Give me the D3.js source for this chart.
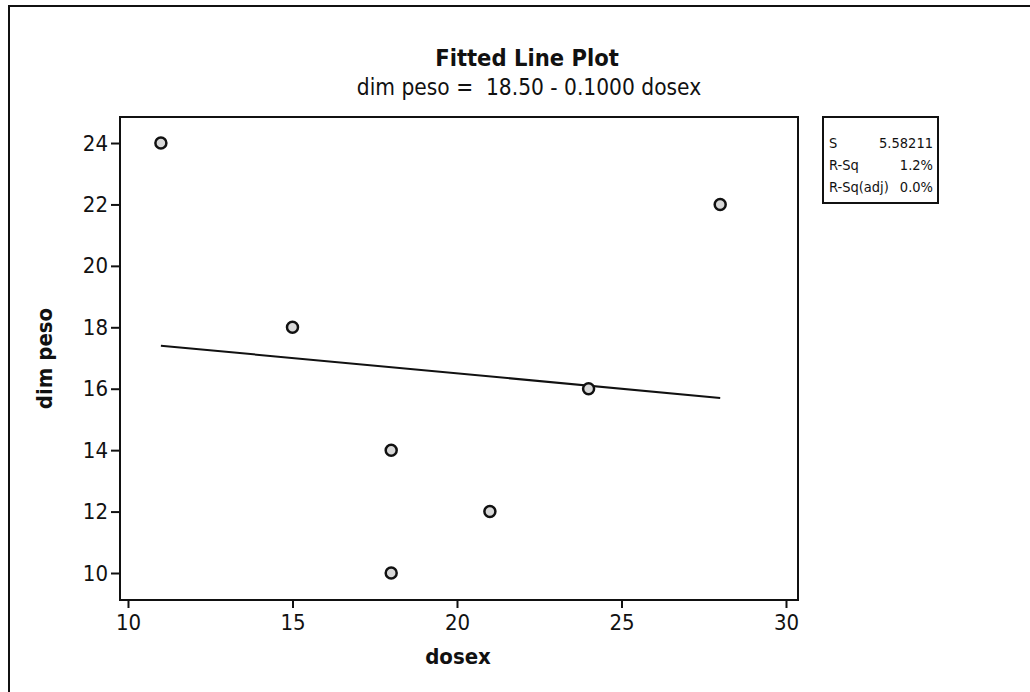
<!DOCTYPE html>
<html>
<head>
<meta charset="utf-8">
<script src="https://cdn.jsdelivr.net/npm/d3@7"></script>
<style>
  body { margin: 0; background: #fff; }
  svg text { font-family: "DejaVu Sans Condensed", "Liberation Sans", sans-serif; fill: #111; }
</style>
</head>
<body>
<svg id="chart" width="1030" height="692"></svg>
<script>
// observations
var dosex = [11, 15, 18, 18, 21, 24, 28];
var dimPeso = [24, 18, 14, 10, 12, 16, 22];
// fitted equation from the subtitle
var intercept = 18.50;
var slope = -0.1000;
var xTicks = [10, 15, 20, 25, 30];
var yTicks = [10, 12, 14, 16, 18, 20, 22, 24];
var statLabels = ["S", "R-Sq", "R-Sq(adj)"];
var statValues = ["5.58211", "1.2%", "0.0%"];

function drawChart() {
  var svg = d3.select("#chart");
  var pL = 120, pR = 798, pT = 117, pB = 600;

  // outer page frame (runs off the right and bottom)
  svg.append("rect")
      .attr("x", 9).attr("y", 6)
      .attr("width", 1100).attr("height", 800)
      .attr("fill", "none")
      .attr("stroke", "#111")
      .attr("stroke-width", 2);

  var x = d3.scaleLinear().domain([9.757, 30.365]).range([pL, pR]);
  var y = d3.scaleLinear().domain([9.121, 24.847]).range([pB, pT]);

  svg.append("text")
      .attr("x", 527).attr("y", 66)
      .attr("text-anchor", "middle")
      .attr("font-size", 23.5)
      .attr("font-weight", "bold")
      .text("Fitted Line Plot");

  svg.append("text")
      .attr("x", 529).attr("y", 95)
      .attr("text-anchor", "middle")
      .attr("font-size", 22.5)
      .style("white-space", "pre")
      .text("dim peso =  18.50 - 0.1000 dosex");

  var xAxis = svg.append("g")
      .attr("transform", "translate(0," + pB + ")")
      .call(d3.axisBottom(x).tickValues(xTicks).tickSize(8).tickPadding(6));
  var yAxis = svg.append("g")
      .attr("transform", "translate(" + pL + ",0)")
      .call(d3.axisLeft(y).tickValues(yTicks).tickSize(9).tickPadding(3));

  [xAxis, yAxis].forEach(g => {
    g.select(".domain").remove();
    g.selectAll(".tick line").attr("stroke", "#111").attr("stroke-width", 2);
    g.selectAll(".tick text")
        .attr("font-size", 22)
        .attr("fill", "#111")
        .style("font-family", "\"DejaVu Sans Condensed\", \"Liberation Sans\", sans-serif");
  });

  svg.append("rect")
      .attr("x", pL).attr("y", pT)
      .attr("width", pR - pL).attr("height", pB - pT)
      .attr("fill", "none")
      .attr("stroke", "#111")
      .attr("stroke-width", 2);

  // fitted line over the observed dosex range
  svg.append("path")
      .datum(d3.extent(dosex))
      .attr("fill", "none")
      .attr("stroke", "#111")
      .attr("stroke-width", 2)
      .attr("d", d3.line().x(d => x(d)).y(d => y(intercept + slope * d)));

  svg.selectAll(".pt")
      .data(dosex.map((d, i) => [d, dimPeso[i]]))
    .enter().append("circle")
      .attr("class", "pt")
      .attr("cx", d => x(d[0]))
      .attr("cy", d => y(d[1]))
      .attr("r", 5.5)
      .attr("fill", "#d8d8d8")
      .attr("stroke", "#111")
      .attr("stroke-width", 2.5);

  svg.append("text")
      .attr("x", 458).attr("y", 664)
      .attr("text-anchor", "middle")
      .attr("font-size", 22)
      .attr("font-weight", "bold")
      .text("dosex");

  svg.append("text")
      .attr("transform", "translate(52," + ((pT + pB) / 2) + ") rotate(-90)")
      .attr("text-anchor", "middle")
      .attr("font-size", 22)
      .attr("font-weight", "bold")
      .text("dim peso");

  // summary box
  var box = svg.append("g").attr("transform", "translate(823," + pT + ")");
  box.append("rect")
      .attr("width", 115).attr("height", 86)
      .attr("fill", "#fff")
      .attr("stroke", "#111")
      .attr("stroke-width", 2);
  statLabels.forEach((s, i) => {
    box.append("text")
        .attr("x", 6).attr("y", 31 + i * 22)
        .attr("font-size", 14.5)
        .text(s);
    box.append("text")
        .attr("x", 110).attr("y", 31 + i * 22)
        .attr("text-anchor", "end")
        .attr("font-size", 14.5)
        .text(statValues[i]);
  });
}

drawChart();
</script>
</body>
</html>
